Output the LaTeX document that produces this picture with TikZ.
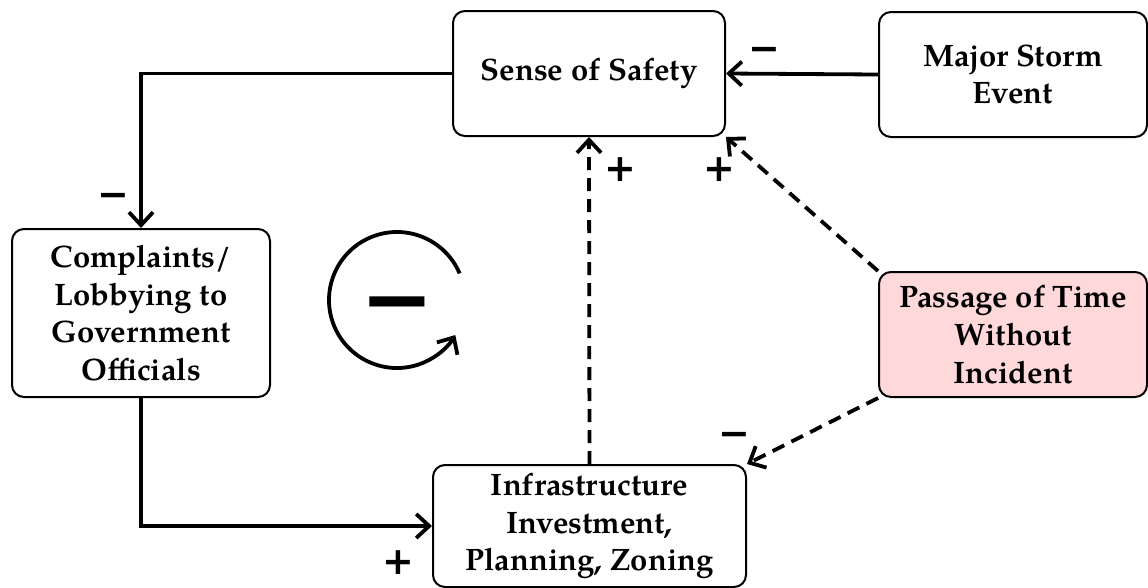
\documentclass[tikz,border=0pt]{standalone}
\usepackage{fontspec}
\setmainfont{texgyrepagella}[Extension=.otf, UprightFont=*-regular, BoldFont=*-bold, ItalicFont=*-italic, BoldItalicFont=*-bolditalic]
\newfontfamily\signfont{DejaVu Sans}
\usetikzlibrary{arrows.meta}
\definecolor{pinkfill}{HTML}{FFD8DA}
\begin{document}
\begin{tikzpicture}[x=1pt,y=-1pt,
  box/.style={draw, line width=2pt, rounded corners=12pt, align=center, inner sep=0pt,
    font=\fontsize{31}{37.7}\selectfont\bfseries},
  link/.style={line width=3.8pt, -{Straight Barb[length=13pt,width=24pt]}},
  dashlink/.style={link, dash pattern=on 13pt off 8pt},
  sign/.style={font=\signfont\bfseries\fontsize{38}{38}\selectfont, inner sep=0pt},
  bigsign/.style={font=\signfont\bfseries\fontsize{88}{88}\selectfont, inner sep=0pt}]
\useasboundingbox (0,0) rectangle (1148,587);
\node[box, minimum width=272pt, minimum height=125pt] (sense) at (589,73.5) {Sense of Safety};
\node[box, minimum width=268pt, minimum height=125pt] (storm) at (1013,74.5) {Major Storm\\Event};
\node[box, minimum width=258pt, minimum height=168pt] (complaints) at (141,313) {Complaints/\\Lobbying to\\Government\\Officials};
\node[box, fill=pinkfill, minimum width=268pt, minimum height=125pt] (passage) at (1013,334.5) {Passage of Time\\Without\\Incident};
\node[box, minimum width=313pt, minimum height=122pt] (infra) at (589.5,526) {Infrastructure\\Investment,\\Planning, Zoning};

\draw[link] (sense.west) -| (complaints.north);
\draw[link] (complaints.south) |- (infra.west);
\draw[link] (storm.west) -- (sense.east);
\draw[dashlink] (infra.north) -- (sense.south);
\draw[dashlink] (passage.north west) -- (sense.south east);
\draw[dashlink] (passage.south west) -- (infra.north east);

\coordinate (loopc) at (397,300);
\draw[link] ([shift={(-23:68)}]loopc) arc[start angle=-23, end angle=-329, radius=68];
\node[bigsign] (loopsign) at (397,313) {−};

\node[sign] (s1) at (113,200) {−};
\node[sign] (s2) at (398,563) {+};
\node[sign] (s3) at (764,54) {−};
\node[sign] (s4) at (620,170) {+};
\node[sign] (s5) at (719,170) {+};
\node[sign] (s6) at (734,439) {−};
\end{tikzpicture}
\end{document}
